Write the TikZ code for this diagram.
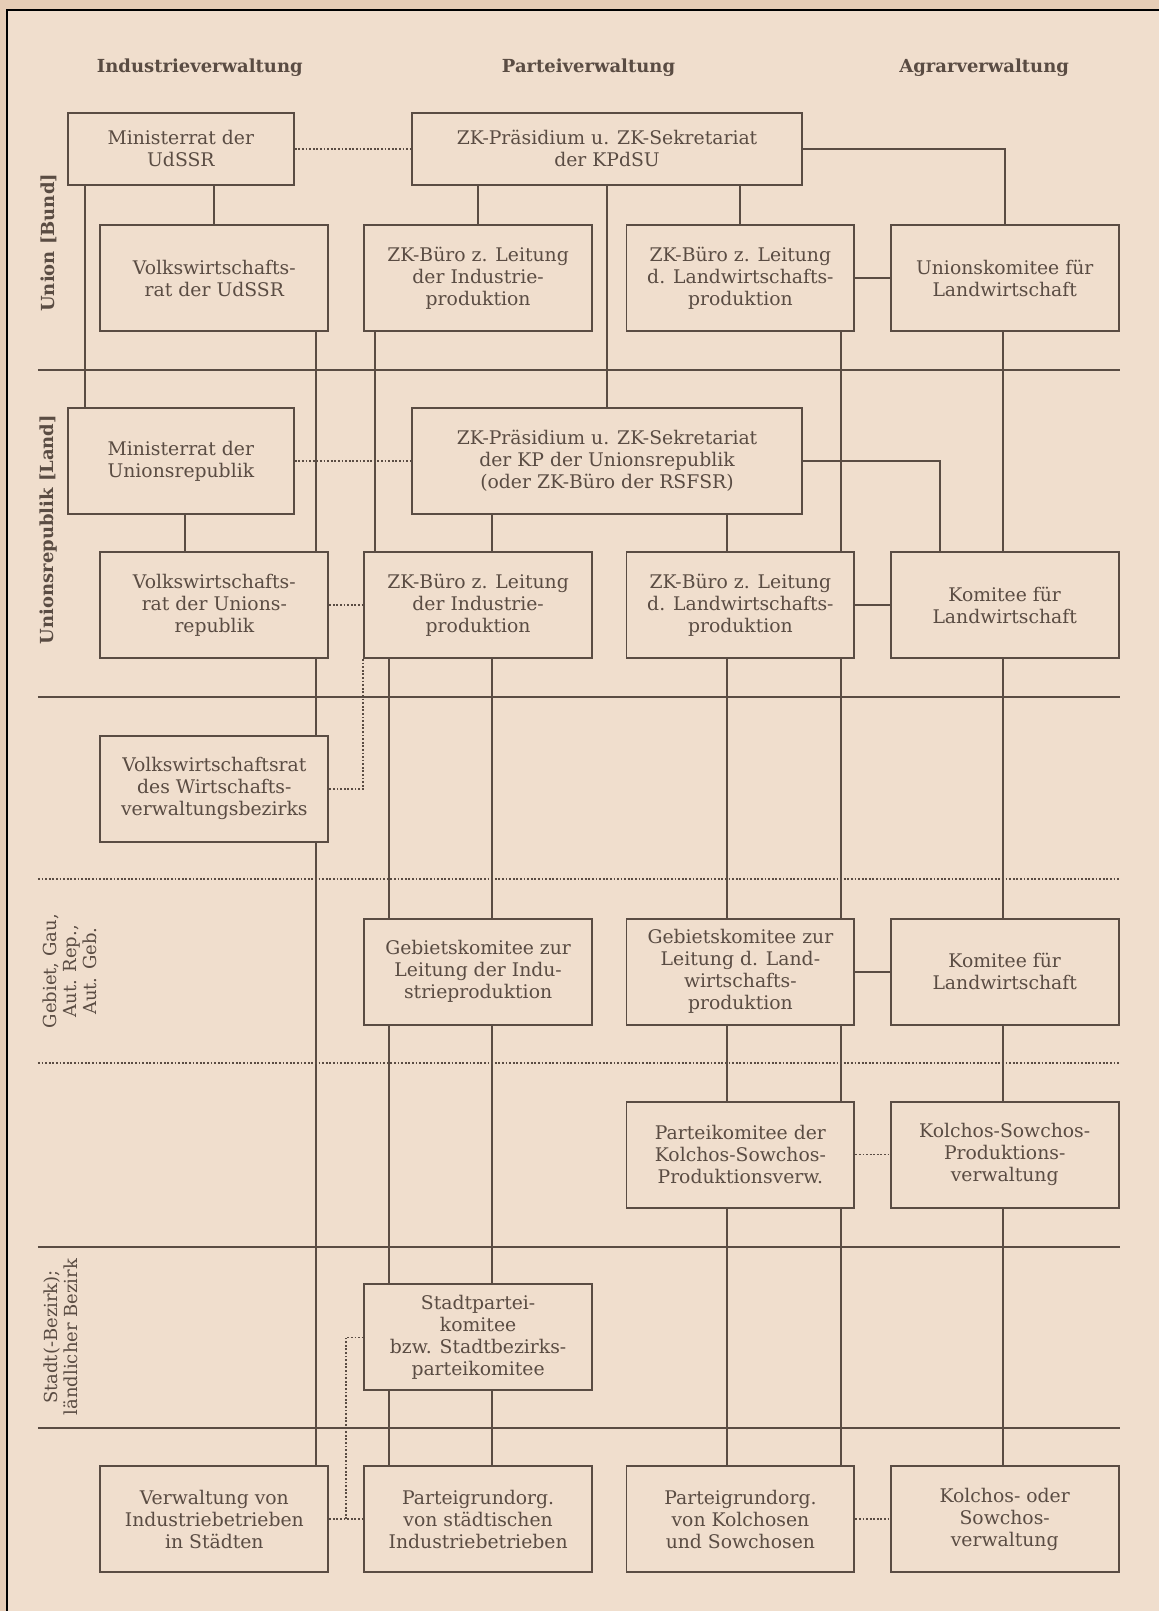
\documentclass[tikz,border=0pt]{standalone}
\usepackage{fontspec}
\setmainfont{DejaVu Serif}

\definecolor{paper}{HTML}{F0DECD}
\definecolor{paperdark}{HTML}{E6CDB6}
\definecolor{ink}{HTML}{5A4C43}

\tikzset{
  org/.style={draw=ink, line width=1pt, minimum width=114pt, minimum height=53pt,
    inner sep=0pt, align=center, text=ink, font=\fontsize{9.4}{11}\selectfont},
  orgflat/.style={org, minimum height=36pt},
  orgwide/.style={org, minimum width=195.5pt},
  link/.style={draw=ink, line width=1pt},
  weak/.style={draw=ink, line width=0.9pt, dash pattern=on 0.9pt off 0.9pt},
  head/.style={text=ink, font=\bfseries\fontsize{9}{11}\selectfont},
  level/.style={text=ink, rotate=90, align=center, font=\fontsize{9}{10}\selectfont},
  levelbf/.style={level, font=\bfseries\fontsize{9}{10}\selectfont},
}

\begin{document}
\begin{tikzpicture}[x=0.5pt, y=-0.5pt]
    % paper and frame
    \fill[paperdark] (0,0) rectangle (1160,1612);
    \fill[paper] (7,10) rectangle (1160,1612);
    \draw[black, line width=1.3pt] (7,1612) -- (7,10) -- (1160,10);
    \useasboundingbox (0,0) rectangle (1160,1612);

    % column heads
    \node[head] (hInd) at (200,68) {Industrieverwaltung};
    \node[head] (hPart) at (589,68) {Parteiverwaltung};
    \node[head] (hAgr) at (985,68) {Agrarverwaltung};

    % level labels
    \node[levelbf] (lvUnion) at (49,243) {Union [Bund]};
    \node[levelbf] (lvRep) at (49,530) {Unionsrepublik [Land]};
    \node[level] (lvGeb) at (70,972) {Gebiet, Gau,\\Aut. Rep.,\\Aut. Geb.};
    \node[level] (lvStadt) at (61,1338) {Stadt(-Bezirk);\\ländlicher Bezirk};

    % level separators
    \foreach \y in {370,698,1248,1429}
        \draw[link] (38,\y) -- (1121,\y);
    \foreach \y in {880,1064}
        \draw[weak] (38,\y) -- (1121,\y);

    % Union
    \node[orgflat, minimum width=113pt] (minUdSSR) at (181,149) {Ministerrat der\\UdSSR};
    \node[orgflat, orgwide, minimum height=36pt] (zkKPdSU) at (607.5,149) {ZK-Präsidium u. ZK-Sekretariat\\der KPdSU};
    \node[org] (vrUdSSR) at (214.5,278.5) {Volkswirtschafts-\\rat der UdSSR};
    \node[org] (bueroIndU) at (478.5,278.5) {ZK-Büro z. Leitung\\der Industrie-\\produktion};
    \node[org] (bueroLandU) at (741,278.5) {ZK-Büro z. Leitung\\d. Landwirtschafts-\\produktion};
    \node[org] (unionskom) at (1005.5,278.5) {Unionskomitee für\\Landwirtschaft};

    % Unionsrepublik
    \node[org, minimum width=113pt] (minUR) at (181,461.5) {Ministerrat der\\Unionsrepublik};
    \node[orgwide] (zkUR) at (607.5,461.5) {ZK-Präsidium u. ZK-Sekretariat\\der KP der Unionsrepublik\\(oder ZK-Büro der RSFSR)};
    \node[org] (vrUR) at (214.5,605.5) {Volkswirtschafts-\\rat der Unions-\\republik};
    \node[org] (bueroIndUR) at (478.5,605.5) {ZK-Büro z. Leitung\\der Industrie-\\produktion};
    \node[org] (bueroLandUR) at (741,605.5) {ZK-Büro z. Leitung\\d. Landwirtschafts-\\produktion};
    \node[org] (komUR) at (1005.5,605.5) {Komitee für\\Landwirtschaft};
    \node[org] (vrWVB) at (214.5,789.5) {Volkswirtschaftsrat\\des Wirtschafts-\\verwaltungsbezirks};

    % Gebiet
    \node[org] (gebInd) at (478.5,972.5) {Gebietskomitee zur\\Leitung der Indu-\\strieproduktion};
    \node[org] (gebLand) at (741,972.5) {Gebietskomitee zur\\Leitung d. Land-\\wirtschafts-\\produktion};
    \node[org] (komGeb) at (1005.5,972.5) {Komitee für\\Landwirtschaft};
    \node[org] (pkKolchos) at (741,1155.5) {Parteikomitee der\\Kolchos-Sowchos-\\Produktionsverw.};
    \node[org] (ksPV) at (1005.5,1155.5) {Kolchos-Sowchos-\\Produktions-\\verwaltung};

    % Stadt / Bezirk
    \node[org] (stadtpk) at (478.5,1338.5) {Stadtpartei-\\komitee\\bzw. Stadtbezirks-\\parteikomitee};
    \node[org] (verwInd) at (214.5,1520.5) {Verwaltung von\\Industriebetrieben\\in Städten};
    \node[org] (pgoStadt) at (478.5,1520.5) {Parteigrundorg.\\von städtischen\\Industriebetrieben};
    \node[org] (pgoKolch) at (741,1520.5) {Parteigrundorg.\\von Kolchosen\\und Sowchosen};
    \node[org] (kolchVerw) at (1005.5,1520.5) {Kolchos- oder\\Sowchos-\\verwaltung};

    % x positions of the vertical strands
    \coordinate (xA1) at (85,0);
    \coordinate (xA2) at (316,0);
    \coordinate (xM) at (185,0);
    \coordinate (xB1) at (375,0);
    \coordinate (xB3) at (389,0);
    \coordinate (xB2) at (492,0);
    \coordinate (xC1) at (728,0);
    \coordinate (xC2) at (842,0);
    \coordinate (xD) at (1004,0);
    \coordinate (xK) at (941,0);
    \coordinate (xS) at (346,0);

    % vertical lines
    \foreach \a/\b/\c in {minUdSSR/minUR/xA1, minUdSSR/vrUdSSR/vrUdSSR,
        zkKPdSU/bueroIndU/bueroIndU, zkKPdSU/zkUR/zkUR, zkKPdSU/bueroLandU/bueroLandU,
        vrUdSSR/vrUR/xA2, vrUR/vrWVB/xA2, vrWVB/verwInd/xA2, minUR/vrUR/xM,
        bueroIndU/bueroIndUR/xB1, zkUR/bueroIndUR/xB2,
        bueroIndUR/gebInd/xB3, bueroIndUR/gebInd/xB2,
        gebInd/stadtpk/xB3, gebInd/stadtpk/xB2,
        stadtpk/pgoStadt/xB3, stadtpk/pgoStadt/xB2,
        bueroLandU/bueroLandUR/xC2, zkUR/bueroLandUR/xC1,
        bueroLandUR/gebLand/xC1, bueroLandUR/gebLand/xC2,
        gebLand/pkKolchos/xC1, gebLand/pkKolchos/xC2,
        pkKolchos/pgoKolch/xC1, pkKolchos/pgoKolch/xC2,
        unionskom/komUR/xD, komUR/komGeb/xD, komGeb/ksPV/xD, ksPV/kolchVerw/xD}
        \draw[link] (\a.south -| \c) -- (\b.north -| \c);

    % side links
    \draw[link] (zkKPdSU.east) -| (unionskom.north);
    \draw[link] (bueroLandU.east) -- (unionskom.west);
    \draw[link] (zkUR.east) -| (komUR.north -| xK);
    \draw[link] (bueroLandUR.east) -- (komUR.west);
    \draw[link] (gebLand.east) -- (komGeb.west);

    % dotted links
    \draw[weak] (minUdSSR.east) -- (zkKPdSU.west);
    \draw[weak] (minUR.east) -- (zkUR.west);
    \draw[weak] (vrUR.east) -- (bueroIndUR.west);
    \draw[weak] (bueroIndUR.south west) |- (vrWVB.east);
    \draw[weak] (pkKolchos.east) -- (ksPV.west);
    \draw[weak] (verwInd.east) -- (pgoStadt.west);
    \draw[weak] (verwInd.east -| xS) |- (stadtpk.west);
    \draw[weak] (pgoKolch.east) -- (kolchVerw.west);
\end{tikzpicture}
\end{document}
